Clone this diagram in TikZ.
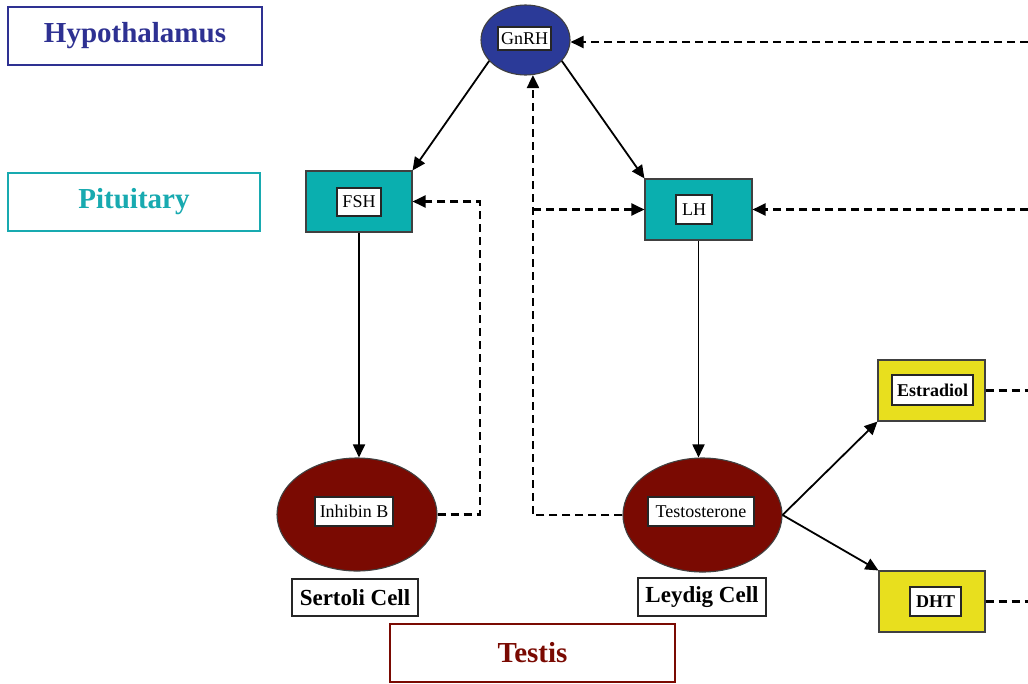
\documentclass[tikz,border=0pt]{standalone}
\usepackage{fontspec}
\setmainfont{Liberation Serif}
\usetikzlibrary{shapes.geometric,arrows.meta,calc}

\definecolor{hypoblue}{HTML}{2E3192}
\definecolor{gnrhblue}{HTML}{2B3A98}
\definecolor{pitteal}{HTML}{18AAB0}
\definecolor{tealfill}{HTML}{0AAFAF}
\definecolor{testred}{HTML}{7A0A02}
\definecolor{hormyellow}{HTML}{E8DF1E}
\definecolor{edgegray}{HTML}{404040}

\tikzset{
  region/.style={draw, line width=2.2pt, fill=white, font=\bfseries\fontsize{29}{32}\selectfont,
    inner sep=0pt},
  tag/.style={draw=black!85, line width=1.5pt, fill=white, inner sep=0pt,
    font=\fontsize{18}{20}\selectfont},
  boldtag/.style={tag, font=\bfseries\fontsize{18}{20}\selectfont},
  celltag/.style={tag, line width=1.4pt, font=\bfseries\fontsize{23}{25}\selectfont},
  gland/.style={draw=edgegray, line width=1.1pt, inner sep=0pt},
  cell/.style={gland, ellipse, fill=testred},
  stim/.style={line width=1.8pt, -{Triangle[length=13pt,width=12pt]}},
  fb/.style={line width=2.2pt, dash pattern=on 8pt off 5pt, -{Triangle[length=13pt,width=12pt]}},
  fbplain/.style={line width=2.2pt, dash pattern=on 8pt off 5pt},
}

\begin{document}
\begin{tikzpicture}[x=1pt,y=-1pt]
  \fill[white] (0,0) rectangle (1028,683);
  \useasboundingbox (0,0) rectangle (1028,683);

  % level labels
  \node[region, draw=hypoblue, text=hypoblue, minimum width=254pt, minimum height=58pt]
    (hypo) at (135,36) {Hypothalamus};
  \node[region, draw=pitteal, text=pitteal, minimum width=252pt, minimum height=58pt]
    (pit) at (134,202) {Pituitary};
  \node[region, draw=testred, text=testred, minimum width=285pt, minimum height=58pt]
    (testis) at (532.5,653) {Testis};

  % hypothalamus
  \node[gland, ellipse, fill=gnrhblue, minimum width=89pt, minimum height=70pt] (gnrh) at (525.5,40) {};
  \node[tag, minimum width=53pt, minimum height=23pt] (gnrhT) at (524.5,38.5) {GnRH};

  % pituitary
  \node[gland, fill=tealfill, minimum width=106pt, minimum height=61pt] (fsh) at (359,201.5) {};
  \node[tag, minimum width=44pt, minimum height=28pt] (fshT) at (359,202) {FSH};
  \node[gland, fill=tealfill, minimum width=107pt, minimum height=61pt] (lh) at (698.5,209.5) {};
  \node[tag, minimum width=36pt, minimum height=29pt] (lhT) at (694,209.5) {LH};

  % testis cells
  \node[cell, minimum width=160pt, minimum height=113pt] (inh) at (357,514.5) {};
  \node[tag, minimum width=78pt, minimum height=29pt] (inhT) at (354,511.5) {Inhibin B};
  \node[cell, minimum width=159pt, minimum height=114pt] (tes) at (702.5,515) {};
  \node[tag, minimum width=106pt, minimum height=29pt] (tesT) at (701,511.5) {Testosterone};
  \node[celltag, minimum width=126pt, minimum height=37pt] (sert) at (355,597.5) {Sertoli Cell};
  \node[celltag, minimum width=128pt, minimum height=38pt] (leyd) at (702,597) {Leydig Cell};

  % metabolites
  \node[gland, fill=hormyellow, minimum width=107pt, minimum height=61pt] (estr) at (931.5,390.5) {};
  \node[boldtag, minimum width=81pt, minimum height=30pt] (estrT) at (932.5,390) {Estradiol};
  \node[gland, fill=hormyellow, minimum width=106pt, minimum height=61pt] (dht) at (932,601.5) {};
  \node[boldtag, minimum width=51pt, minimum height=29pt] (dhtT) at (935.5,601.5) {DHT};

  % stimulatory pathway
  \draw[stim] (gnrh.210) -- (fsh.north east);
  \draw[stim] (gnrh.330) -- (lh.north west);
  \draw[stim] (fsh.south) -- (fsh.south |- inh.north);
  \draw[stim] (lh.south) -- (lh.south |- tes.north);
  \draw[stim] (tes.east) -- (estr.south west);
  \draw[stim] (tes.east) -- (dht.north west);

  % negative feedback
  \coordinate (inhUp) at (480,201.5);
  \draw[fb] (inh.east) -| (inhUp) -- (fsh.east);
  \draw[fb] (tes.west) -| (gnrh.282);
  \coordinate (tesJ) at (533,209.5);
  \draw[fb] (tesJ) -- (lh.west);

  % feedback returning from the right
  \coordinate (retG) at (1028,42);
  \coordinate (retL) at (1028,209.5);
  \draw[fb] (retG) -- (retG -| gnrh.east);
  \draw[fb] (retL) -- (lh.east);
  \draw[fbplain] (estr.east) -- (estr.east -| retG);
  \draw[fbplain] (dht.east) -- (dht.east -| retG);
\end{tikzpicture}
\end{document}
